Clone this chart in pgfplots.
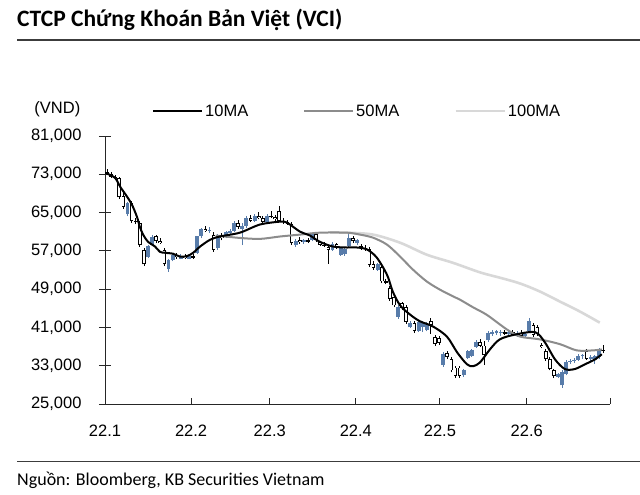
\documentclass[border=0pt]{standalone}
\usepackage{pgfplots}
\pgfplotsset{compat=1.18}
\usepackage{pgfplotstable}
\usepackage{fontspec}
\setmainfont{Liberation Sans}
\newfontfamily\titlefont{Carlito}
\definecolor{candleblue}{RGB}{88,124,170}
\definecolor{ma50}{RGB}{140,140,140}
\definecolor{ma100}{RGB}{216,216,216}
\definecolor{rulegray}{RGB}{60,60,60}

\pgfplotstableread{
x o h l c
0.5 73.5 74.0 72.8 73.0
1.5 73.0 73.4 72.2 72.5
2.5 72.5 72.8 71.8 72.2
3.5 72.2 72.5 67.8 68.2
4.5 68.5 69.2 65.8 66.2
6.5 67.0 67.4 62.8 63.2
7.5 63.2 63.8 62.6 63.0
8.5 62.8 63.2 57.8 58.2
9.5 57.2 57.6 53.8 54.2
12.5 60.0 60.4 58.6 59.0
13.5 59.0 59.6 58.4 58.6
14.5 57.2 57.6 53.8 54.2
17.5 56.2 56.6 55.4 55.8
19.5 56.0 56.3 55.3 55.6
21.5 55.9 56.3 55.4 55.6
24.5 61.5 62.2 61.0 61.1
26.5 60.3 61.0 56.8 57.2
28.5 60.2 60.8 59.2 59.6
32.5 62.8 63.4 61.6 62.0
35.5 63.8 64.4 63.0 63.3
37.5 64.3 65.2 63.6 63.8
38.5 63.8 64.2 62.6 63.0
40.5 64.2 65.3 63.8 64.0
41.5 64.0 64.5 63.2 63.6
42.5 65.4 66.3 63.0 63.3
43.5 63.3 63.8 62.6 63.0
44.5 63.0 63.4 62.5 62.7
45.5 62.6 63.0 58.2 58.6
47.5 59.2 59.8 58.5 58.8
49.5 59.2 59.6 58.6 58.9
51.5 60.5 60.9 58.8 59.2
52.5 58.8 59.0 58.0 58.3
53.5 58.3 58.8 57.8 58.0
54.5 57.8 58.1 54.3 57.2
56.5 58.4 58.6 57.4 57.6
60.5 59.6 60.2 58.6 59.0
62.5 58.0 58.5 57.2 57.5
63.5 57.6 58.2 57.0 57.3
64.5 57.3 57.8 53.6 54.0
65.5 54.2 54.8 53.0 53.4
67.5 53.6 54.0 50.2 50.6
68.5 50.6 51.2 50.0 50.3
69.5 49.2 49.6 46.6 47.0
70.5 47.4 47.8 45.2 45.6
72.5 46.0 46.4 44.6 45.0
73.5 45.2 45.6 41.8 42.2
75.5 42.0 42.4 39.8 40.2
79.5 42.4 43.0 39.6 41.6
80.5 39.0 39.5 37.2 37.6
81.5 38.8 39.2 37.4 37.8
83.5 35.6 36.0 34.4 34.8
84.5 34.4 34.8 31.6 32.0
85.5 32.6 33.0 30.4 30.8
86.5 32.6 33.0 30.4 30.8
91.5 38.0 38.5 37.0 37.2
92.5 37.2 38.2 33.2 35.2
97.5 40.0 40.5 39.4 39.7
99.5 40.0 40.4 39.2 39.5
101.5 39.8 40.4 38.8 39.2
104.5 41.5 42.0 39.0 39.4
105.5 41.0 41.6 39.2 39.6
106.5 37.4 37.8 36.6 37.0
107.5 36.0 36.4 34.0 34.4
108.5 34.4 34.8 32.0 32.4
109.5 32.0 32.4 30.4 30.8
117.5 36.0 36.5 34.2 34.5
121.5 36.2 37.4 35.6 36.0
}\whitetab

\pgfplotstableread{
x o h l c
5.5 64.6 67.3 64.2 67.0
10.5 55.8 58.3 55.5 58.0
11.5 58.2 60.3 58.0 59.8
15.5 53.2 55.4 52.6 55.0
16.5 55.0 56.6 54.8 56.2
18.5 55.4 56.4 55.2 56.0
20.5 55.4 56.2 55.2 55.9
22.5 56.6 60.2 56.4 60.0
23.5 60.0 61.8 59.6 61.5
25.5 61.1 61.9 60.7 61.4
27.5 57.5 60.6 57.2 60.2
29.5 59.8 61.2 59.6 61.0
30.5 60.8 61.5 60.5 61.2
31.5 61.2 63.2 61.0 62.8
33.5 61.6 62.8 58.2 62.2
34.5 62.2 64.2 61.8 63.8
36.5 63.3 64.8 63.0 64.3
39.5 63.0 64.6 62.8 64.2
46.5 58.2 59.5 57.8 59.0
48.5 58.8 59.5 58.5 59.2
50.5 59.2 60.8 59.0 60.5
55.5 57.2 58.8 57.0 58.4
57.5 56.2 57.8 56.0 57.5
58.5 56.4 57.6 56.0 57.4
59.5 58.0 60.8 57.8 59.6
61.5 58.6 59.5 58.2 59.2
66.5 53.0 54.5 52.8 54.2
71.5 43.2 45.6 42.8 45.2
74.5 41.0 42.4 40.8 42.0
76.5 40.2 42.5 40.0 42.2
77.5 41.0 42.4 40.0 42.0
78.5 40.5 42.2 40.2 41.8
82.5 33.2 35.8 32.8 35.4
87.5 31.0 32.4 30.6 32.0
88.5 34.6 36.2 34.4 36.0
89.5 35.0 36.4 34.8 36.2
90.5 37.0 38.4 36.8 38.0
93.5 38.4 40.2 38.0 39.8
94.5 39.6 40.4 39.3 40.0
95.5 39.8 40.4 39.5 40.2
96.5 39.8 40.4 39.2 40.0
98.5 39.7 40.3 39.3 40.0
100.5 39.5 40.2 39.0 39.8
102.5 39.2 40.0 39.0 39.7
103.5 40.3 43.0 40.0 42.3
110.5 30.6 31.4 30.4 31.2
111.5 28.9 32.0 28.4 31.6
112.5 31.2 34.2 31.0 33.8
113.5 33.8 34.4 33.4 34.0
114.5 34.0 34.6 33.6 34.2
115.5 34.2 35.4 34.0 35.1
116.5 35.0 35.5 34.4 35.2
118.5 34.4 35.2 33.8 34.8
119.5 34.2 35.3 33.4 35.0
120.5 34.8 36.6 34.5 36.2
}\bluetab

\pgfplotsset{
  candle/.style n args={2}{forget plot, draw=none, mark=none,
    error bars/.cd, y dir=plus, y explicit, error mark=none,
    error bar style={draw=#1, line width=#2, line cap=butt, solid}},
}

\begin{document}
\begin{tikzpicture}
\useasboundingbox (0,0) rectangle (640bp,495bp);
\node[anchor=base west, inner sep=0pt, font=\titlefont\bfseries\fontsize{23.5bp}{26bp}\selectfont] at (17bp,468bp) {CTCP Chứng Khoán Bản Việt (VCI)};
\draw[rulegray, line width=1.3bp] (17bp,455bp) -- (640bp,455bp);
\draw[rulegray, line width=1bp] (17bp,33bp) -- (640bp,33bp);
\node[anchor=base west, inner sep=0pt, font=\titlefont\fontsize{18bp}{20bp}\selectfont] at (17bp,10bp) {Nguồn: Bloomberg, KB Securities Vietnam};
\node[anchor=east, inner sep=0pt, font=\fontsize{16.5bp}{18bp}\selectfont] at (80.5bp,386bp) {(VND)};
\begin{axis}[
  at={(105bp,91bp)}, anchor=south west,
  scale only axis, width=505bp, height=268bp,
  xmin=0, xmax=123.2, ymin=25, ymax=81,
  axis x line*=bottom, axis y line*=left,
  axis line style={line width=0.8bp, black!85},
  xtick=\empty,
  extra x ticks={0,21,40.2,61.2,81.7,102.9,123.2},
  extra x tick labels={22.1,22.2,22.3,22.4,22.5,22.6,{}},
  extra x tick style={major tick length=6bp, tick align=inside},
  ytick={25,33,41,49,57,65,73,81},
  yticklabels={{25,000},{33,000},{41,000},{49,000},{57,000},{65,000},{73,000},{81,000}},
  major tick length=12bp, tick align=center,
  tick style={black!85, line width=0.8bp},
  ticklabel style={font=\fontsize{16.5bp}{18bp}\selectfont, text=black},
  xticklabel style={yshift=-17bp},
  yticklabel style={xshift=-14bp},
  reverse legend,
  legend columns=3,
  legend image code/.code={\draw[#1] (0bp,0bp) -- (49bp,0bp);},
  legend style={draw=none, fill=none, at={(axis description cs:0.093,1.093)}, anchor=west,
    inner sep=0pt, font=\fontsize{16.5bp}{18bp}\selectfont,
    /tikz/every even column/.append style={column sep=53bp}},
]
% white (falling) candles: wick, outline, hollow interior
\addplot[candle={black}{0.8bp}]
  table[x=x, y=l, y error plus expr={\thisrow{h}-\thisrow{l}}] {\whitetab};
\addplot[candle={black}{3.7bp}]
  table[x=x, y=c, y error plus expr={\thisrow{o}-\thisrow{c}}] {\whitetab};
\addplot[candle={white}{2bp}]
  table[x=x, y expr={\thisrow{c}+0.18}, y error plus expr={max(\thisrow{o}-\thisrow{c}-0.36,0)}] {\whitetab};
% blue (rising) candles
\addplot[candle={candleblue}{0.8bp}]
  table[x=x, y=l, y error plus expr={\thisrow{h}-\thisrow{l}}] {\bluetab};
\addplot[candle={candleblue}{3.9bp}]
  table[x=x, y=o, y error plus expr={\thisrow{c}-\thisrow{o}}] {\bluetab};
% moving averages
\addplot[ma100, line width=2.6bp, smooth] coordinates {
(54.9,60.8) (59,60.8) (65.4,60.4) (72,58.7) (78.5,56.2) (84.9,54.5) (91.5,52.5) (96.3,51.4) (101.2,50.2) (106.1,48.5) (111,46.4) (115.9,44.3) (120.7,42.0)
};
\addlegendentry{100MA}
\addplot[ma50, line width=2bp, smooth] coordinates {
(27,60.2) (32.9,59.7) (37.8,59.5) (42.7,60.0) (47.6,60.4) (52.4,60.8) (59,60.8) (62.2,60.4) (65.4,59.75) (68.8,58.3) (72,55.8) (75.1,53.1) (78.5,50.6) (81.7,48.9) (84.9,47.5) (86.6,46.8) (89.8,45.2) (93.2,43.6) (98,40.6) (101.2,39.1) (106.1,38.5) (111,37.5) (115.1,36.2) (119,36.2) (121.2,36.4)
};
\addlegendentry{50MA}
\addplot[black, line width=2bp, smooth] coordinates {
(0,73.3) (2.4,72.3) (3.7,70.4) (5.4,68.3) (6.6,66.6) (7.8,64.1) (8.5,62.0) (9.3,60.4) (10.5,58.9) (12.2,57.9) (13.4,56.8) (14.6,56.6) (16.6,56.4) (18.3,55.8) (20,55.9) (21.5,56.6) (23.2,57.9) (25.6,59.3) (28,60.0) (32.9,60.8) (37.8,62.5) (42.7,63.1) (44.4,62.9) (47.6,61.0) (50,60.2) (52.4,58.9) (55.6,57.9) (59,57.7) (61.5,57.7) (63.9,57.3) (66.3,55.6) (68.8,52.0) (70.2,48.5) (72,45.6) (74.4,43.7) (76.8,42.3) (80,41.2) (83.4,39.1) (85.9,35.8) (88.3,33.3) (89.8,32.9) (91.5,33.7) (93.9,36.4) (96.3,38.5) (100,39.5) (104.9,40.0) (107.3,37.9) (109.8,34.3) (112.2,32.3) (114.6,32.3) (117.1,33.3) (119.5,34.3) (121.2,35.4)
};
\addlegendentry{10MA}
\end{axis}
\end{tikzpicture}
\end{document}
